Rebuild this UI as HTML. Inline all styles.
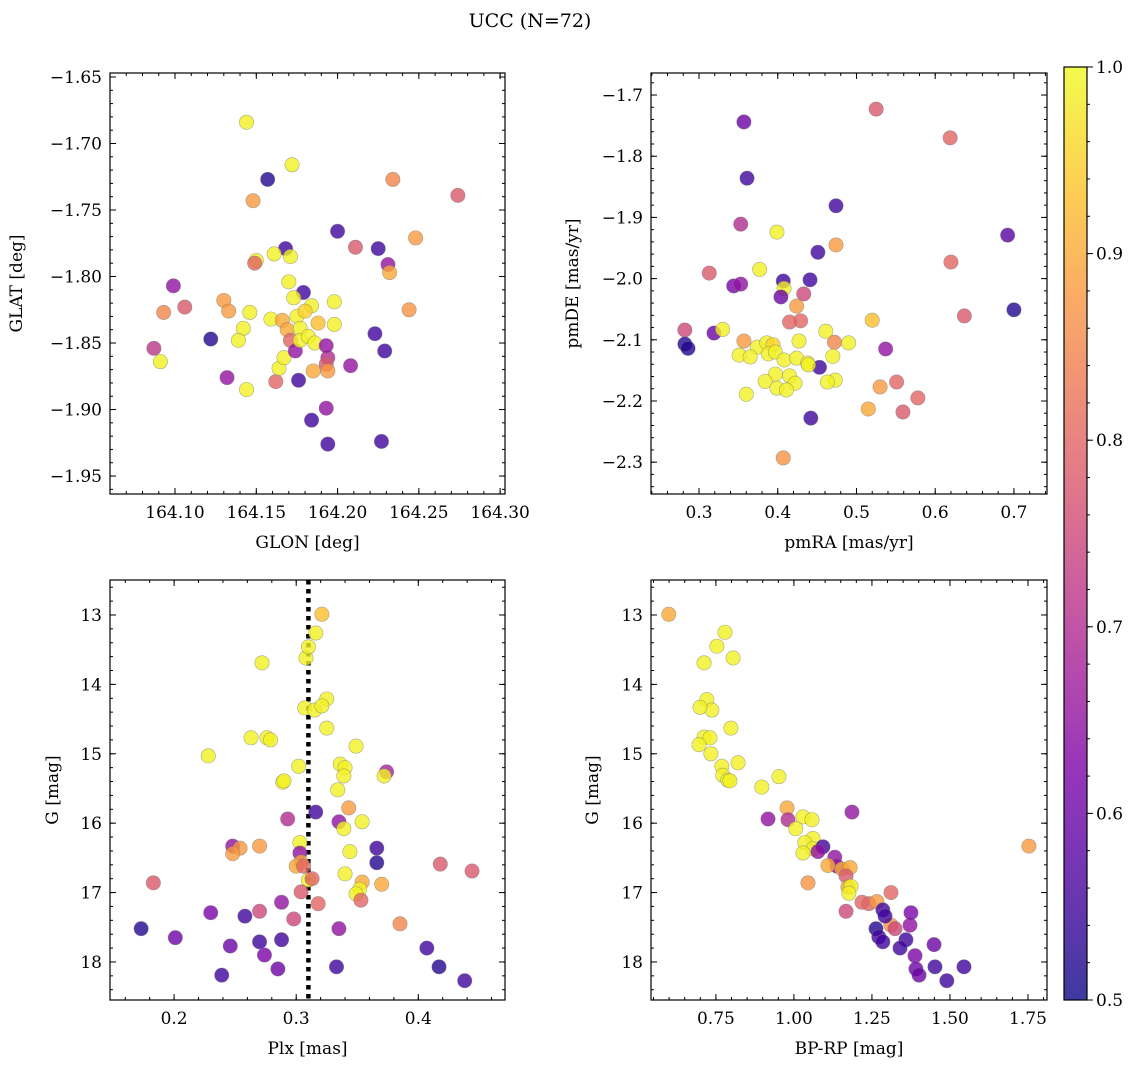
<!DOCTYPE html>
<html><head><meta charset="utf-8">
<style>
html,body{margin:0;padding:0;background:#fff;}
svg{display:block;font-family:"DejaVu Serif","Liberation Serif",serif;}
</style></head>
<body>
<svg id="fig" width="1136" height="1067" viewBox="0 0 1136 1067" xmlns="http://www.w3.org/2000/svg">
<text x="530" y="27" text-anchor="middle" font-size="19">UCC (N=72)</text>
</svg>
<script>
// ---- Panel 1: GLON / GLAT ----
const glon = [164.144,164.172,164.157,164.148,164.274,164.234,164.248,164.200,164.168,164.171,164.150,164.149,164.161,164.211,164.225,164.231,164.232,164.179,164.170,164.173,164.099,164.106,164.093,164.130,164.133,164.146,164.142,164.139,164.122,164.087,164.091,164.132,164.144,164.162,164.164,164.167,164.159,164.166,164.169,164.175,164.177,164.171,164.174,164.176,164.177,164.184,164.182,164.186,164.184,164.193,164.194,164.194,164.193,164.194,164.185,164.198,164.198,164.193,164.208,164.223,164.229,164.227,164.244,164.180,164.188];
const glat = [-1.684,-1.716,-1.727,-1.743,-1.739,-1.727,-1.771,-1.766,-1.779,-1.785,-1.788,-1.790,-1.783,-1.778,-1.779,-1.791,-1.797,-1.812,-1.804,-1.816,-1.807,-1.823,-1.827,-1.818,-1.826,-1.827,-1.839,-1.848,-1.847,-1.854,-1.864,-1.876,-1.885,-1.879,-1.869,-1.861,-1.832,-1.833,-1.840,-1.830,-1.839,-1.848,-1.856,-1.878,-1.848,-1.822,-1.845,-1.850,-1.908,-1.899,-1.926,-1.861,-1.866,-1.871,-1.871,-1.819,-1.836,-1.852,-1.867,-1.843,-1.856,-1.924,-1.825,-1.826,-1.835];
const prob1 = [0.99,0.99,0.52,0.88,0.78,0.85,0.88,0.55,0.55,0.99,0.99,0.80,0.99,0.78,0.55,0.65,0.90,0.55,0.99,0.99,0.65,0.78,0.85,0.88,0.88,0.99,0.99,0.99,0.52,0.72,0.99,0.65,0.99,0.80,0.99,0.99,0.99,0.90,0.90,0.99,0.99,0.80,0.65,0.55,0.99,0.99,0.99,0.99,0.55,0.65,0.55,0.70,0.78,0.88,0.90,0.99,0.99,0.65,0.65,0.55,0.55,0.55,0.87,0.95,0.93];
// ---- Panel 2: pmRA / pmDE ----
const pmra = [0.525,0.619,0.357,0.361,0.474,0.353,0.399,0.474,0.692,0.451,0.620,0.313,0.377,0.407,0.441,0.408,0.344,0.353,0.404,0.700,0.637,0.433,0.424,0.429,0.415,0.520,0.282,0.319,0.330,0.282,0.286,0.461,0.427,0.490,0.472,0.537,0.374,0.386,0.394,0.357,0.351,0.365,0.388,0.397,0.408,0.424,0.438,0.453,0.439,0.470,0.397,0.384,0.415,0.422,0.473,0.463,0.530,0.551,0.399,0.411,0.360,0.578,0.559,0.515,0.442,0.407];
const pmde = [-1.723,-1.770,-1.744,-1.836,-1.881,-1.911,-1.924,-1.945,-1.929,-1.957,-1.973,-1.991,-1.985,-2.004,-2.002,-2.016,-2.012,-2.009,-2.030,-2.051,-2.061,-2.025,-2.045,-2.069,-2.071,-2.068,-2.084,-2.089,-2.083,-2.107,-2.114,-2.086,-2.102,-2.105,-2.104,-2.115,-2.112,-2.105,-2.108,-2.102,-2.125,-2.128,-2.123,-2.120,-2.133,-2.130,-2.138,-2.145,-2.141,-2.127,-2.156,-2.168,-2.159,-2.171,-2.166,-2.169,-2.177,-2.169,-2.179,-2.182,-2.189,-2.195,-2.218,-2.213,-2.228,-2.293];
const prob2 = [0.78,0.80,0.60,0.55,0.55,0.70,0.99,0.88,0.58,0.55,0.80,0.78,0.99,0.55,0.55,0.99,0.62,0.65,0.60,0.52,0.78,0.75,0.88,0.80,0.80,0.93,0.75,0.60,0.99,0.52,0.52,0.99,0.99,0.99,0.85,0.65,0.99,0.99,0.95,0.88,0.99,0.99,0.99,0.99,0.99,0.99,0.99,0.55,0.99,0.99,0.99,0.99,0.99,0.99,0.99,0.99,0.88,0.80,0.99,0.99,0.99,0.80,0.78,0.90,0.55,0.87];
// ---- Panel 3: Plx / G ----
const plx = [0.321,0.316,0.308,0.310,0.272,0.307,0.315,0.325,0.321,0.325,0.263,0.276,0.279,0.228,0.349,0.336,0.340,0.339,0.374,0.372,0.302,0.289,0.290,0.334,0.343,0.316,0.293,0.335,0.354,0.339,0.344,0.303,0.248,0.254,0.248,0.270,0.303,0.366,0.366,0.304,0.300,0.306,0.340,0.310,0.313,0.354,0.370,0.352,0.349,0.304,0.418,0.444,0.183,0.353,0.318,0.288,0.270,0.230,0.258,0.298,0.385,0.335,0.173,0.201,0.270,0.288,0.246,0.274,0.407,0.239,0.285,0.333,0.417,0.438];
const gmag3 = [12.99,13.26,13.62,13.46,13.69,14.34,14.37,14.21,14.31,14.63,14.77,14.77,14.80,15.03,14.89,15.15,15.20,15.32,15.26,15.32,15.18,15.41,15.39,15.52,15.78,15.84,15.94,15.98,15.98,16.08,16.41,16.28,16.33,16.36,16.44,16.33,16.43,16.36,16.57,16.56,16.62,16.62,16.73,16.82,16.80,16.85,16.88,16.95,17.02,16.99,16.59,16.69,16.86,17.11,17.16,17.14,17.27,17.29,17.34,17.38,17.45,17.52,17.52,17.65,17.71,17.68,17.77,17.90,17.80,18.19,18.10,18.07,18.07,18.27];
const prob3 = [0.93,0.99,0.99,0.99,0.99,0.99,0.99,0.99,0.99,0.99,0.99,0.99,0.99,0.99,0.99,0.99,0.99,0.99,0.68,0.99,0.99,0.99,0.99,0.99,0.88,0.55,0.70,0.65,0.99,0.99,0.99,0.99,0.65,0.88,0.88,0.88,0.65,0.55,0.52,0.90,0.90,0.80,0.99,0.99,0.80,0.90,0.90,0.99,0.99,0.78,0.78,0.78,0.78,0.80,0.80,0.65,0.75,0.62,0.55,0.75,0.85,0.65,0.52,0.60,0.55,0.55,0.60,0.62,0.55,0.55,0.60,0.55,0.52,0.55];
// ---- Panel 4: BP-RP / G ----
const bprp = [0.599,0.779,0.753,0.712,0.805,0.721,0.737,0.699,0.798,0.712,0.731,0.696,0.734,0.821,0.769,0.772,0.788,0.795,0.952,0.897,1.186,0.978,1.029,1.058,0.917,0.981,1.006,1.061,1.035,1.061,1.093,1.077,1.029,1.131,1.138,1.109,1.154,1.180,1.167,1.173,1.183,1.176,1.045,1.218,1.240,1.266,1.311,1.311,1.285,1.292,1.263,1.167,1.272,1.285,1.324,1.372,1.375,1.359,1.340,1.449,1.388,1.391,1.401,1.452,1.490,1.545,1.753];
const gmag4 = [12.99,13.25,13.45,13.69,13.62,14.22,14.37,14.33,14.63,14.76,14.77,14.87,15.00,15.13,15.18,15.31,15.38,15.39,15.33,15.48,15.84,15.78,15.91,15.95,15.94,15.95,16.08,16.22,16.28,16.37,16.34,16.41,16.43,16.49,16.62,16.61,16.66,16.64,16.76,16.92,16.91,17.01,16.86,17.14,17.16,17.13,17.00,17.47,17.25,17.34,17.52,17.27,17.64,17.71,17.52,17.47,17.29,17.68,17.80,17.75,17.91,18.10,18.19,18.07,18.27,18.07,16.33];
const prob4 = [0.90,0.99,0.99,0.99,0.99,0.99,0.99,0.99,0.99,0.99,0.99,0.99,0.99,0.99,0.99,0.99,0.99,0.99,0.99,0.99,0.65,0.90,0.99,0.99,0.65,0.70,0.99,0.99,0.99,0.99,0.55,0.65,0.99,0.65,0.65,0.90,0.90,0.90,0.78,0.90,0.99,0.99,0.87,0.80,0.80,0.88,0.80,0.87,0.55,0.55,0.52,0.75,0.55,0.55,0.75,0.65,0.62,0.55,0.55,0.60,0.62,0.60,0.60,0.55,0.55,0.55,0.88];
const cbTicks = [0.5,0.6,0.7,0.8,0.9,1.0];

const NS = "http://www.w3.org/2000/svg";
const svg = document.getElementById('fig');
function mk(tag, attrs, parent){ const e=document.createElementNS(NS,tag); for(const k in attrs) e.setAttribute(k,attrs[k]); (parent||svg).appendChild(e); return e; }

const stops=[[0,[13,8,135]],[0.125,[75,3,161]],[0.25,[126,3,168]],[0.375,[170,35,149]],[0.5,[204,71,120]],[0.625,[230,108,92]],[0.75,[248,149,64]],[0.875,[253,196,39]],[1,[240,249,33]]];
function plasma(t){ t=Math.max(0,Math.min(1,t)); for(let i=1;i<stops.length;i++){ if(t<=stops[i][0]){ const a=stops[i-1],b=stops[i]; const f=(t-a[0])/(b[0]-a[0]); const c=a[1].map((v,j)=>Math.round(v+(b[1][j]-v)*f)); return `rgb(${c[0]},${c[1]},${c[2]})`; } } return 'rgb(240,249,33)'; }
function pcol(p){ return plasma((p-0.5)/0.5); }

function panel(cfg, xs, ys, ps){
  const g = mk('g',{});
  
  
  const {L,T,R,B,x0,x1,y0,y1} = cfg;
  const sx = v => L + (v-x0)/(x1-x0)*(R-L);
  const sy = v => T + (v-y0)/(y1-y0)*(B-T);
  const tg = mk('g',{stroke:'#000','stroke-width':1},g);
  function ticksX(vals,len){ vals.forEach(v=>{const x=sx(v); if(x<L-0.5||x>R+0.5) return; mk('line',{x1:x,x2:x,y1:B,y2:B-len},tg); mk('line',{x1:x,x2:x,y1:T,y2:T+len},tg);}); }
  function ticksY(vals,len){ vals.forEach(v=>{const y=sy(v); if(y<T-0.5||y>B+0.5) return; mk('line',{y1:y,y2:y,x1:L,x2:L+len},tg); mk('line',{y1:y,y2:y,x1:R,x2:R-len},tg);}); }
  const range=(a,b,s)=>{const r=[]; for(let v=Math.ceil(Math.min(a,b)/s-1e-6)*s; v<=Math.max(a,b)+1e-9; v+=s) r.push(+v.toFixed(6)); return r;};
  ticksX(range(x0,x1,cfg.xminor),3); ticksX(cfg.xticks,6);
  ticksY(range(y0,y1,cfg.yminor),3); ticksY(cfg.yticks,6);
  if(cfg.vline!==undefined){ const l=mk('line',{x1:sx(cfg.vline),x2:sx(cfg.vline),y1:T,y2:B,stroke:'#000','stroke-width':4.5,'stroke-dasharray':'4.5 4.5'},g);
      }
  const pg = mk('g',{},g);
  
  
  xs.forEach((xv,i)=>{ if(ys[i]===undefined) return;
    const c = mk('circle',{cx:sx(xv),cy:sy(ys[i]),r:7.2,fill:pcol(ps[i]),'fill-opacity':0.8,stroke:'#777','stroke-opacity':0.6,'stroke-width':0.6},pg);
    
    
  });
  mk('rect',{x:L,y:T,width:R-L,height:B-T,fill:'none',stroke:'#000','stroke-width':1.2},g);
  cfg.xticks.forEach((v,i)=>{ const t=mk('text',{x:sx(v),y:B+24,'text-anchor':'middle','font-size':17},g); t.textContent=cfg.xlabels[i];
      });
  cfg.yticks.forEach((v,i)=>{ const t=mk('text',{x:L-8,y:sy(v)+6,'text-anchor':'end','font-size':17},g); t.textContent=cfg.ylabels[i];
      });
  const xt=mk('text',{x:(L+R)/2,y:B+54,'text-anchor':'middle','font-size':17},g); xt.textContent=cfg.xtitle;
   
  const yx=cfg.ytx, yy=(T+B)/2;
  const yt=mk('text',{x:yx,y:yy,'text-anchor':'middle','font-size':17,transform:`rotate(-90 ${yx} ${yy})`},g); yt.textContent=cfg.ytitle;
   
}
const fmt=(a,d)=>a.map(v=>v<0?'\u2212'+Math.abs(v).toFixed(d):v.toFixed(d));

const t1x=[164.10,164.15,164.20,164.25,164.30], t1y=[-1.65,-1.70,-1.75,-1.80,-1.85,-1.90,-1.95];
panel({name:'glon-glat-panel',L:110,T:73,R:505,B:494,x0:164.06,x1:164.303,y0:-1.647,y1:-1.9635,xminor:0.01,yminor:0.01,
  xticks:t1x,xlabels:fmt(t1x,2),yticks:t1y,ylabels:fmt(t1y,2),xtitle:'GLON [deg]',ytitle:'GLAT [deg]',ytx:22},glon,glat,prob1);
const t2x=[0.3,0.4,0.5,0.6,0.7], t2y=[-1.7,-1.8,-1.9,-2.0,-2.1,-2.2,-2.3];
panel({name:'pmra-pmde-panel',L:651,T:73,R:1047,B:494,x0:0.239,x1:0.742,y0:-1.664,y1:-2.352,xminor:0.02,yminor:0.02,
  xticks:t2x,xlabels:fmt(t2x,1),yticks:t2y,ylabels:fmt(t2y,1),xtitle:'pmRA [mas/yr]',ytitle:'pmDE [mas/yr]',ytx:578},pmra,pmde,prob2);
const t3x=[0.2,0.3,0.4], tG=[13,14,15,16,17,18];
panel({name:'plx-g-panel',L:110,T:580,R:505,B:1000,x0:0.1475,x1:0.471,y0:12.496,y1:18.548,xminor:0.02,yminor:0.2,vline:0.31,
  xticks:t3x,xlabels:fmt(t3x,1),yticks:tG,ylabels:fmt(tG,0),xtitle:'Plx [mas]',ytitle:'G [mag]',ytx:58},plx,gmag3,prob3);
const t4x=[0.75,1.00,1.25,1.50,1.75];
panel({name:'color-magnitude-panel',L:651,T:580,R:1047,B:1000,x0:0.542,x1:1.811,y0:12.496,y1:18.548,xminor:0.05,yminor:0.2,
  xticks:t4x,xlabels:fmt(t4x,2),yticks:tG,ylabels:fmt(tG,0),xtitle:'BP-RP [mag]',ytitle:'G [mag]',ytx:598},bprp,gmag4,prob4);

const cb = mk('g',{});


const defs=mk('defs',{},cb);
const lg=mk('linearGradient',{id:'cbg',x1:0,y1:1,x2:0,y2:0},defs);
for(let i=0;i<=20;i++){ mk('stop',{offset:i/20,'stop-color':plasma(i/20),'stop-opacity':0.8},lg); }
const CL=1064,CR=1087,CT=67,CB=1000;
mk('rect',{x:CL,y:CT,width:CR-CL,height:CB-CT,fill:'url(#cbg)',stroke:'#000','stroke-width':1.2},cb);
const cy=v=>CB-(v-0.5)/0.5*(CB-CT);
for(let v=0.5;v<=1.0001;v+=0.02){ const y=cy(v); mk('line',{x1:CR,x2:CR+3,y1:y,y2:y,stroke:'#000'},cb); }
cbTicks.forEach(v=>{ const y=cy(v); mk('line',{x1:CR,x2:CR+6,y1:y,y2:y,stroke:'#000'},cb);
  const t=mk('text',{x:CR+9,y:y+6,'font-size':17},cb); t.textContent=v.toFixed(1);
    });
</script>
</body></html>
